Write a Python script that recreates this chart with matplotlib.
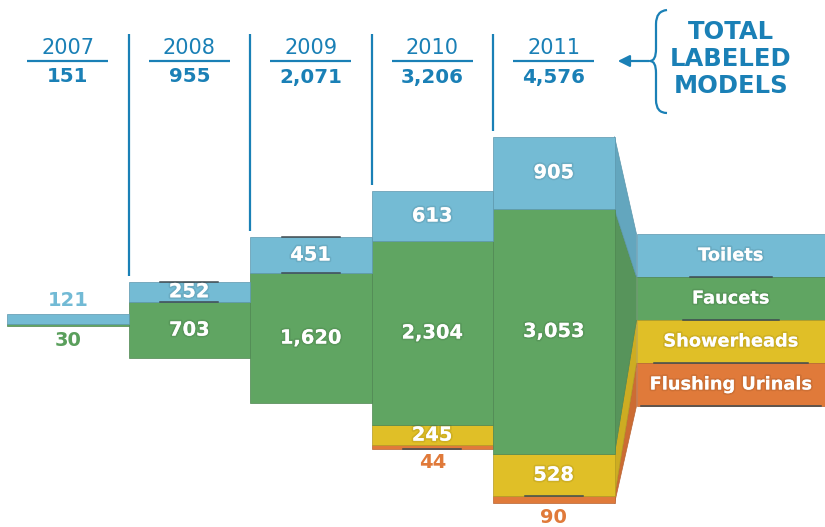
import matplotlib
matplotlib.use("Agg")
import matplotlib.pyplot as plt
import matplotlib.patheffects as pe
from matplotlib.patches import Polygon, FancyArrowPatch, PathPatch
from matplotlib.path import Path
from matplotlib.transforms import Affine2D
import numpy as np

years = ["2007", "2008", "2009", "2010", "2011"]
totals = [151, 955, 2071, 3206, 4576]
toilets = [121, 252, 451, 613, 905]
faucets = [30, 703, 1620, 2304, 3053]
showerheads = [0, 0, 0, 245, 528]
urinals = [0, 0, 0, 44, 90]
categories = ["Toilets", "Faucets", "Showerheads", "Flushing Urinals"]
series = [toilets, faucets, showerheads, urinals]

colors = ["#74bbd4", "#60a562", "#e0bf27", "#e07a3a"]
edge_colors = ["#5c97ad", "#4e8651", "#b49a22", "#b86333"]
side_colors = ["#63a6be", "#57945b", "#cdac22", "#cc6c33"]
label_colors = ["#72bad5", "#5a9f5c", "#d8b21e", "#e07a3a"]
HEADER = "#1a80b6"

W, H = 825, 527
PX = 0.0802          # pixels per model
Y0 = 320             # pixel row of the centre line
BAR0, BARW = 7, 121.5
LEG = 536            # height of one legend band, in model units
LEG_X = 5 + 22 / BARW

fig = plt.figure(figsize=(W / 100, H / 100), dpi=100)
ax = fig.add_axes([0, 0, 1, 1])
ax.set_xlim(-BAR0 / BARW, (W - BAR0) / BARW)
ax.set_ylim(-(H - Y0) / PX, Y0 / PX)
ax.axis("off")
pix = Affine2D().scale(1 / W, -1 / H).translate(0, 1) + fig.transFigure

FONT = "DejaVu Sans"
glow = [pe.withStroke(linewidth=2.5, foreground=(0, 0, 0, 0.08))]

# centred stacked bars
x = np.arange(len(years))
bottom = -np.array(totals) / 2
segs = []
for k in reversed(range(len(series))):
    vals = np.array(series[k])
    m = vals > 0
    ax.bar(x[m], vals[m], width=1, bottom=bottom[m], align="edge",
           color=colors[k], edgecolor=edge_colors[k], lw=0.5, zorder=2)
    segs.append((k, bottom.copy(), vals))
    bottom = bottom + vals

for k, b, vals in segs:
    for i, v in enumerate(vals):
        if v == 0:
            continue
        if v * PX >= 14:
            ax.text(i + 0.5, b[i] + v / 2, f"{v:,}", ha="center", va="center",
                    color="white", fontsize=14, fontweight="bold",
                    family=FONT, path_effects=glow, zorder=5)
        elif k == 0:
            ax.text(i + 0.5, b[i] + v + 13 / PX, f"{v:,}", ha="center",
                    va="center", color=label_colors[k], fontsize=14,
                    fontweight="bold", family=FONT, zorder=5)
        else:
            ax.text(i + 0.5, -totals[i] / 2 - 14 / PX, f"{v:,}", ha="center",
                    va="center", color=label_colors[k], fontsize=14,
                    fontweight="bold", family=FONT, zorder=5)

# small dark rules at some segment edges
rule_kw = dict(color="#3e4a50", lw=1.1, zorder=3)
for i, y in [(1, -totals[1] / 2 + faucets[1]), (1, totals[1] / 2),
             (2, -totals[2] / 2 + faucets[2]), (2, totals[2] / 2),
             (3, -totals[3] / 2), (4, -totals[4] / 2 + urinals[4])]:
    ax.plot([i + 0.26, i + 0.74], [y, y], **rule_kw)

# connector from the 2011 bar to the legend block
last = len(years) - 1
for k, b, vals in segs:
    l_top = LEG * (2 - k)
    l_bot = LEG * (1 - k)
    poly = Polygon([(last + 1, b[last] + vals[last]), (LEG_X, l_top),
                    (LEG_X, l_bot), (last + 1, b[last])],
                   closed=True, facecolor=side_colors[k],
                   edgecolor=edge_colors[k], lw=0.5, zorder=1)
    ax.add_patch(poly)

# legend block
leg_w = ax.get_xlim()[1] - LEG_X
half_rules = [41, 48, 77, 90]
for k, name in enumerate(categories):
    l_bot = LEG * (1 - k)
    ax.bar(LEG_X, LEG, width=leg_w, bottom=l_bot, align="edge",
           color=colors[k], edgecolor=edge_colors[k], lw=0.5, zorder=2)
    cx = LEG_X + leg_w / 2
    ax.text(cx, l_bot + LEG / 2, name, ha="center", va="center",
            color="white", fontsize=12.8, fontweight="bold", family=FONT,
            path_effects=glow, zorder=5)
    hw = half_rules[k] / BARW
    ax.plot([cx - hw, cx + hw], [l_bot, l_bot], **rule_kw)

# header: years and totals
for i, (yr, t) in enumerate(zip(years, totals)):
    cx = BAR0 + (i + 0.5) * BARW
    ax.text(cx, 48, yr, transform=pix, ha="center", va="center",
            color=HEADER, fontsize=15, fontweight="normal", family=FONT)
    ax.plot([cx - 40.5, cx + 40.5], [61, 61], transform=pix,
            color=HEADER, lw=1.6, solid_capstyle="butt")
    ax.text(cx, 77, f"{t:,}", transform=pix, ha="center", va="center",
            color=HEADER, fontsize=14.3, fontweight="bold", family=FONT)
    if i > 0:
        xl = BAR0 + i * BARW
        y_end = Y0 - t * PX / 2 - 6
        ax.plot([xl, xl], [34, y_end], transform=pix, color=HEADER,
                lw=1.6, solid_capstyle="butt")

# brace + arrow + caption
verts = [(667, 10), (656, 11), (656, 24), (656, 49),
         (656, 61), (650, 61), (656, 61), (656, 73),
         (656, 100), (656, 113), (667, 113)]
codes = [Path.MOVETO, Path.CURVE3, Path.CURVE3, Path.LINETO,
         Path.CURVE3, Path.CURVE3, Path.CURVE3, Path.CURVE3,
         Path.LINETO, Path.CURVE3, Path.CURVE3]
ax.add_patch(PathPatch(Path(verts, codes), transform=pix, fill=False,
                       edgecolor=HEADER, lw=1.6))
ax.add_patch(FancyArrowPatch((652, 61), (615, 61), transform=pix,
                             arrowstyle="-|>,head_length=7,head_width=3.5",
                             color=HEADER, lw=1.6, mutation_scale=1))
for j, word in enumerate(["TOTAL", "LABELED", "MODELS"]):
    ax.text(731, 32 + j * 27, word, transform=pix, ha="center",
            va="center", color=HEADER, fontsize=17.5, fontweight="bold",
            family=FONT)

fig.savefig("out.png", dpi=100)
